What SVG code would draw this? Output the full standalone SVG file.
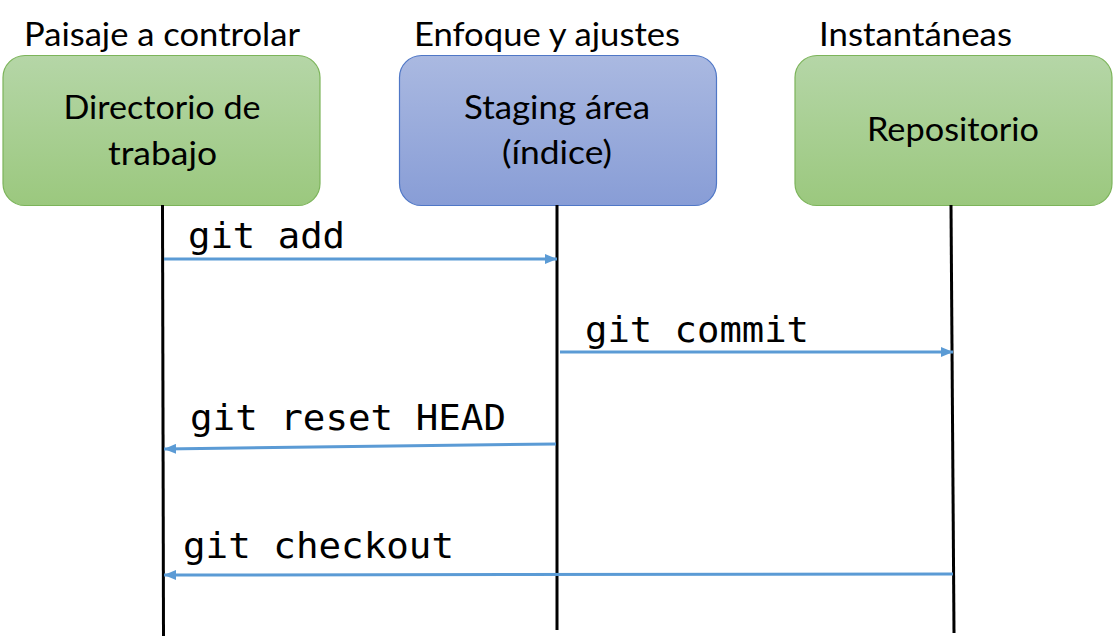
<svg xmlns="http://www.w3.org/2000/svg" width="1113" height="639" viewBox="0 0 1113 639">
<style>
.title{font-family:Lato,"Open Sans","Liberation Sans",sans-serif;font-size:32px;fill:#000}
.lbl{font-family:Lato,"Open Sans","Liberation Sans",sans-serif;font-size:33px;fill:#000;text-anchor:middle}
.cmd{font-family:"DejaVu Sans Mono","Liberation Mono",monospace;font-size:36px;fill:#000}
.life{stroke:#000;stroke-width:3;fill:none}
.arr{stroke:#5b9bd5;stroke-width:3;fill:none;marker-end:url(#ah)}
.green{fill:url(#gg);stroke:#7cb45a;stroke-width:1.2}
.blue{fill:url(#bg);stroke:#4f77c6;stroke-width:1.2}
</style>
<defs>
<linearGradient id="gg" x1="0" y1="0" x2="0" y2="1">
<stop offset="0" stop-color="#b5d6a7"/>
<stop offset="1" stop-color="#9bc87e"/>
</linearGradient>
<linearGradient id="bg" x1="0" y1="0" x2="0" y2="1">
<stop offset="0" stop-color="#aab9e1"/>
<stop offset="1" stop-color="#889dd6"/>
</linearGradient>
<marker id="ah" markerWidth="12" markerHeight="10" refX="12" refY="5" orient="auto" markerUnits="userSpaceOnUse">
<path d="M0,0 L12,5 L0,10 Z" fill="#5b9bd5"/>
</marker>
</defs>
<text class="title" x="24" y="46" textLength="276" lengthAdjust="spacingAndGlyphs">Paisaje a controlar</text>
<text class="title" x="414" y="46" textLength="266" lengthAdjust="spacingAndGlyphs">Enfoque y ajustes</text>
<text class="title" x="819" y="46" textLength="193" lengthAdjust="spacingAndGlyphs">Instantáneas</text>
<g id="node-directorio">
<rect class="green" x="3" y="55.5" width="317" height="150" rx="22"/>
<text class="lbl" x="162" y="119" textLength="197" lengthAdjust="spacingAndGlyphs">Directorio de</text>
<text class="lbl" x="162.5" y="165" textLength="109" lengthAdjust="spacingAndGlyphs">trabajo</text>
</g>
<g id="node-staging">
<rect class="blue" x="399.5" y="55.5" width="317" height="150" rx="22"/>
<text class="lbl" x="557" y="119" textLength="186" lengthAdjust="spacingAndGlyphs">Staging área</text>
<text class="lbl" x="557" y="164" textLength="110" lengthAdjust="spacingAndGlyphs">(índice)</text>
</g>
<g id="node-repositorio">
<rect class="green" x="795" y="55.5" width="317" height="150" rx="22"/>
<text class="lbl" x="953" y="141" textLength="172" lengthAdjust="spacingAndGlyphs">Repositorio</text>
</g>
<g id="connectors">
<line class="life" x1="162.5" y1="205" x2="163.5" y2="636"/>
<line class="life" x1="557" y1="205" x2="557" y2="630"/>
<line class="life" x1="951" y1="205" x2="954" y2="633"/>
<line class="arr" x1="164" y1="259" x2="557" y2="259"/>
<line class="arr" x1="560" y1="352" x2="953" y2="352"/>
<line class="arr" x1="556" y1="444" x2="164" y2="449"/>
<line class="arr" x1="953" y1="574" x2="164" y2="575"/>
<text class="cmd" x="188" y="248" textLength="157" lengthAdjust="spacingAndGlyphs">git add</text>
<text class="cmd" x="585" y="342" textLength="224" lengthAdjust="spacingAndGlyphs">git commit</text>
<text class="cmd" x="190" y="430" textLength="316" lengthAdjust="spacingAndGlyphs">git reset HEAD</text>
<text class="cmd" x="183" y="558" textLength="271" lengthAdjust="spacingAndGlyphs">git checkout</text>
</g>
</svg>
